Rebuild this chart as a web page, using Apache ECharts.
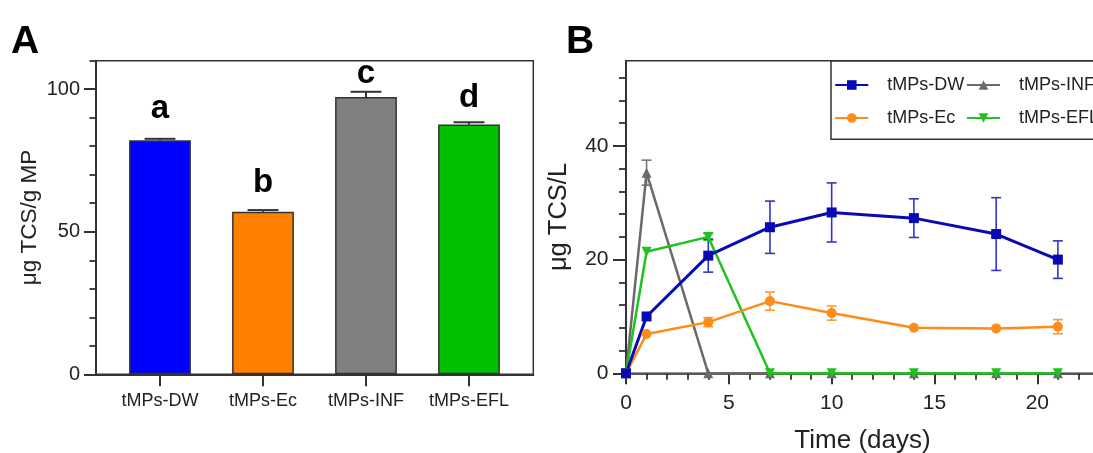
<!DOCTYPE html>
<html lang="en">
<head>
  <meta charset="UTF-8">
  <title>TCS release</title>
  <script src="https://cdn.jsdelivr.net/npm/echarts@6/dist/echarts.min.js"></script>
  <style>
    * { margin: 0; padding: 0 }
    html, body { width: 100%; height: 100%; background: #fff; }
    #main { width: 1093px; height: 453px; }
  </style>
</head>
<body>
  <div id="main"></div>
<script type="text/javascript">
  /*---------- panel A: bars ----------*/
  var groups = ['tMPs-DW', 'tMPs-Ec', 'tMPs-INF', 'tMPs-EFL'];
  var barVals = [82.1, 57.0, 97.3, 87.6];
  var barErr = [0.5, 0.6, 1.8, 0.8];
  var sigLetters = ['a', 'b', 'c', 'd'];
  var barColors = ['#0000ff', '#ff8000', '#808080', '#00c000'];
  var aMajorTicks = [0, 50, 100];
  var aMinorTicks = [10, 20, 30, 40, 60, 70, 80, 90, 110];

  /*---------- panel B: time course ----------*/
  var days = [0, 1, 4, 7, 10, 14, 18, 21];
  var dw = [0, 10.0, 20.7, 25.7, 28.3, 27.3, 24.5, 20.0];
  var dwErr = [0, 0, 2.9, 4.6, 5.2, 3.4, 6.4, 3.3];
  var ec = [0, 6.9, 9.0, 12.7, 10.6, 8.0, 7.9, 8.2];
  var ecErr = [0, 0, 0.8, 1.6, 1.25, 0, 0, 1.25];
  var inf = [0, 35.3, 0, 0, 0, 0, 0, 0];
  var infErr = [0, 2.2, 0, 0, 0, 0, 0, 0];
  var efl = [0, 21.4, 24.0, 0, 0, 0, 0, 0];
  var eflErr = [0, 0, 0.6, 0, 0, 0, 0, 0];
  var bxMajor = [0, 5, 10, 15, 20];
  var bxMinor = [1, 2, 3, 4, 6, 7, 8, 9, 11, 12, 13, 14, 16, 17, 18, 19, 21, 22, 23];
  var byMajor = [0, 20, 40];
  var byMinor = [4, 8, 12, 16, 24, 28, 32, 36, 44, 48, 52];

  var FONT = 'Liberation Sans, Arial, sans-serif';
  var TXT = '#222';

  // letter lift above each bar (px), the figure places them by hand
  var letterDist = [15, 12, 7, 10];

  function pairs(xs, ys) {
    return xs.map(function (x, i) { return [x, ys[i]]; });
  }
  function errTriples(ys, es) {
    var out = [];
    for (var i = 0; i < days.length; i++) {
      if (es[i] > 0) out.push([days[i], ys[i], es[i]]);
    }
    return out;
  }

  function lineErr(name, ys, es, color) {
    return {
      type: 'custom', name: name + '-err', xAxisIndex: 2, yAxisIndex: 3,
      data: errTriples(ys, es), z: 3,
      renderItem: function (params, api) {
        var x = api.value(0), y = api.value(1), e = api.value(2);
        var hi = api.coord([x, y + e]), lo = api.coord([x, y - e]);
        var w = 5;
        var st = {stroke: color, lineWidth: 1.6};
        return {
          type: 'group', children: [
            {type: 'line', shape: {x1: hi[0], y1: hi[1], x2: lo[0], y2: lo[1]}, style: st},
            {type: 'line', shape: {x1: hi[0] - w, y1: hi[1], x2: hi[0] + w, y2: hi[1]}, style: st},
            {type: 'line', shape: {x1: lo[0] - w, y1: lo[1], x2: lo[0] + w, y2: lo[1]}, style: st}
          ]
        };
      }
    };
  }

  function lineSeries(name, ys, color, symbol, rot, width) {
    return {
      type: 'line', name: name, xAxisIndex: 2, yAxisIndex: 3,
      data: pairs(days, ys), symbol: symbol, symbolRotate: rot, symbolSize: 10,
      showAllSymbol: true, clip: false, z: 4,
      itemStyle: {color: color},
      lineStyle: {color: color, width: width}
    };
  }

  var chart = echarts.init(document.getElementById('main'), null, {renderer: 'canvas'});
  chart.setOption({
    animation: false,
    backgroundColor: '#fff',
    textStyle: {fontFamily: FONT},
    graphic: [
      {type: 'text', left: 11, top: 23, style: {text: 'A', font: 'bold 39px ' + FONT, fill: '#000'}},
      {type: 'text', left: 566, top: 23, style: {text: 'B', font: 'bold 39px ' + FONT, fill: '#000'}}
    ],
    grid: [
      {left: 96, top: 60.7, width: 437.3, height: 313.6, outerBoundsMode: 'none',
        show: true, borderColor: '#333', borderWidth: 1.5},
      {left: 108.5, top: 60.7, width: 412, height: 313.6, outerBoundsMode: 'none'},
      {left: 626, top: 60.7, width: 473, height: 312.6, outerBoundsMode: 'none',
        show: true, borderColor: '#333', borderWidth: 1.5}
    ],
    legend: {
      data: ['tMPs-DW', 'tMPs-INF', 'tMPs-Ec', 'tMPs-EFL'],
      left: 831, top: 60.7, width: 265, orient: 'horizontal',
      padding: [7.8, 30, 4.8, 3.3], itemGap: 0,
      itemWidth: 33, itemHeight: 12,
      borderColor: '#333', borderWidth: 1.5,
      textStyle: {fontSize: 18, color: TXT, width: 78.7, lineHeight: 33, padding: [0, 0, 0, 14], fontFamily: FONT}
    },
    xAxis: [
      {gridIndex: 0, type: 'value', min: 0, max: 1,
        axisLine: {show: true, lineStyle: {color: '#333', width: 2}},
        axisTick: {show: false}, axisLabel: {show: false}, splitLine: {show: false}},
      {gridIndex: 1, type: 'category', data: groups,
        axisLine: {show: false},
        axisTick: {show: true, alignWithLabel: true, interval: 0, length: 12, lineStyle: {color: '#333', width: 2}},
        axisLabel: {interval: 0, fontSize: 18, color: TXT, margin: 18},
        splitLine: {show: false}},
      {gridIndex: 2, type: 'value', min: 0, max: 23,
        axisLine: {show: true, lineStyle: {color: '#555', width: 2}},
        axisTick: {show: true, length: 11, customValues: bxMajor, lineStyle: {color: '#333', width: 2}},
        axisLabel: {customValues: bxMajor, fontSize: 21, color: TXT, margin: 19},
        splitLine: {show: false},
        name: 'Time (days)', nameLocation: 'middle', nameGap: 55,
        nameTextStyle: {fontSize: 26, color: TXT}},
      {gridIndex: 2, type: 'value', min: 0, max: 23, position: 'bottom',
        axisLine: {show: false},
        axisTick: {show: true, length: 6.5, customValues: bxMinor, lineStyle: {color: '#333', width: 1.8}},
        axisLabel: {show: false}, splitLine: {show: false}}
    ],
    yAxis: [
      {gridIndex: 0, type: 'value', min: 0, max: 110,
        axisLine: {show: true, lineStyle: {color: '#333', width: 2}},
        axisTick: {show: true, length: 12, customValues: aMajorTicks, lineStyle: {color: '#333', width: 2}},
        axisLabel: {customValues: aMajorTicks, fontSize: 20, color: TXT, margin: 16},
        splitLine: {show: false},
        name: 'μg TCS/g MP', nameLocation: 'middle', nameGap: 55,
        nameTextStyle: {fontSize: 22.5, color: TXT}},
      {gridIndex: 0, type: 'value', min: 0, max: 110, position: 'left',
        axisLine: {show: false},
        axisTick: {show: true, length: 6.5, customValues: aMinorTicks, lineStyle: {color: '#333', width: 1.8}},
        axisLabel: {show: false}, splitLine: {show: false}},
      {gridIndex: 1, type: 'value', min: 0, max: 110, show: false},
      {gridIndex: 2, type: 'value', min: 0, max: 55,
        axisLine: {show: true, lineStyle: {color: '#333', width: 2}},
        axisTick: {show: true, length: 13, customValues: byMajor, lineStyle: {color: '#333', width: 2}},
        axisLabel: {customValues: byMajor, fontSize: 21, color: TXT, margin: 17.5},
        splitLine: {show: false},
        name: 'μg TCS/L', nameLocation: 'middle', nameGap: 54,
        nameTextStyle: {fontSize: 25.5, color: TXT}},
      {gridIndex: 2, type: 'value', min: 0, max: 55, position: 'left',
        axisLine: {show: false},
        axisTick: {show: true, length: 7, customValues: byMinor, lineStyle: {color: '#333', width: 1.8}},
        axisLabel: {show: false}, splitLine: {show: false}}
    ],
    series: [
      {
        type: 'bar', name: 'A-bars', xAxisIndex: 1, yAxisIndex: 2, barWidth: '60%',
        data: barVals.map(function (v, i) {
          return {
            value: v,
            itemStyle: {color: barColors[i], borderColor: '#333', borderWidth: 1.5},
            label: {distance: letterDist[i]}
          };
        }),
        label: {
          show: true, position: 'top', fontSize: 33, fontWeight: 'bold', color: '#000',
          formatter: function (p) { return sigLetters[p.dataIndex]; }
        }
      },
      {
        type: 'custom', name: 'A-err', xAxisIndex: 1, yAxisIndex: 2, z: 3,
        data: barVals.map(function (v, i) { return [i, v, barErr[i]]; }),
        renderItem: function (params, api) {
          var i = api.value(0), v = api.value(1), e = api.value(2);
          var base = api.coord([i, v]), top = api.coord([i, v + e]);
          var half = api.size([1, 0])[0] * 0.15;
          var st = {stroke: '#333', lineWidth: 2};
          return {
            type: 'group', children: [
              {type: 'line', shape: {x1: base[0], y1: base[1], x2: top[0], y2: top[1]}, style: st},
              {type: 'line', shape: {x1: top[0] - half, y1: top[1], x2: top[0] + half, y2: top[1]}, style: st}
            ]
          };
        }
      },
      lineErr('tMPs-INF', inf, infErr, '#777777'),
      lineErr('tMPs-EFL', efl, eflErr, '#33bb33'),
      lineErr('tMPs-Ec', ec, ecErr, '#ff9933'),
      lineErr('tMPs-DW', dw, dwErr, '#3333cc'),
      lineSeries('tMPs-INF', inf, '#6a6a6a', 'triangle', 0, 2.5),
      lineSeries('tMPs-EFL', efl, '#1fc21f', 'triangle', 180, 2.5),
      lineSeries('tMPs-Ec', ec, '#ff8c1a', 'circle', 0, 2.5),
      lineSeries('tMPs-DW', dw, '#0a0ab4', 'rect', 0, 3)
    ]
  });
</script>
</body>
</html>
